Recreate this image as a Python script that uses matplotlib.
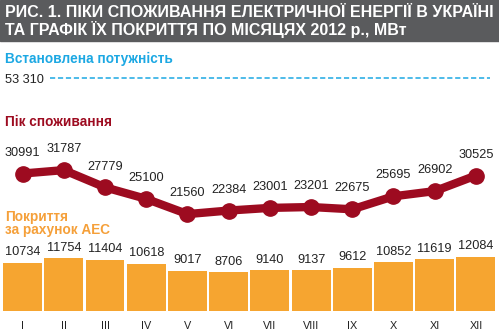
import matplotlib
matplotlib.use('Agg')
import matplotlib.pyplot as plt
from matplotlib import font_manager
from matplotlib.patches import Rectangle

# data
months = ['I', 'II', 'III', 'IV', 'V', 'VI', 'VII', 'VIII', 'IX', 'X', 'XI', 'XII']
peak = [30991, 31787, 27779, 25100, 21560, 22384, 23001, 23201, 22675, 25695, 26902, 30525]
nuclear = [10734, 11754, 11404, 10618, 9017, 8706, 9140, 9137, 9612, 10852, 11619, 12084]
capacity = 53310

title_lines = ['РИС. 1. ПІКИ СПОЖИВАННЯ ЕЛЕКТРИЧНОЇ ЕНЕРГІЇ В УКРАЇНІ',
               'ТА ГРАФІК ЇХ ПОКРИТТЯ ПО МІСЯЦЯХ 2012 р., МВт']

names = {f.name for f in font_manager.fontManager.ttflist}
narrow = 'Liberation Sans Narrow' if 'Liberation Sans Narrow' in names else 'Liberation Sans'
plt.rcParams['font.family'] = ['Liberation Sans', 'DejaVu Sans']

BAND = '#5a5b5d'
CYAN = '#1ca8e3'
RED = '#9d0b20'
ORANGE = '#f6a530'
ORANGE_TXT = '#f5a03a'

W, H = 499, 336
fig = plt.figure(figsize=(W / 100, H / 100), dpi=100)


def fx(x):
    return x / W


def fy(y):
    return 1 - y / H


# title band
fig.patches.append(Rectangle((0, fy(41)), 1, 41 / H, transform=fig.transFigure,
                             color=BAND, zorder=0))
fig.text(fx(5), fy(16.7), title_lines[0], color='white', fontsize=11.5,
         fontweight='bold', family=[narrow, 'DejaVu Sans'], va='baseline')
fig.text(fx(5), fy(35), title_lines[1], color='white', fontsize=11.5,
         fontweight='bold', family=[narrow, 'DejaVu Sans'], va='baseline')

# section labels
fig.text(fx(5), fy(63.3), 'Встановлена потужність', color=CYAN, fontsize=9.8,
         fontweight='bold', va='baseline')
fig.text(fx(5), fy(83), '53 310', color='#222222', fontsize=9.2, va='baseline')
fig.text(fx(5), fy(126), 'Пік споживання', color=RED, fontsize=9.8,
         fontweight='bold', va='baseline')
fig.text(fx(5), fy(220.7), 'Покриття', color=ORANGE_TXT, fontsize=9.8,
         fontweight='bold', va='baseline')
fig.text(fx(5), fy(234.3), 'за рахунок АЕС', color=ORANGE_TXT, fontsize=9.8,
         fontweight='bold', va='baseline')

x = list(range(len(months)))
ax_rect = [fx(2), 0, 494.5 / W, 1]

# bars: base at 311 px, 0.00447 px per MW
ax_bar = fig.add_axes(ax_rect)
ax_bar.bar(x, nuclear, width=0.945, color=ORANGE, zorder=2)
ax_bar.set_xlim(-0.5, 11.5)
ax_bar.set_ylim(-25 / 0.00447, (H - 25) / 0.00447)
for i, v in enumerate(nuclear):
    ax_bar.annotate(str(v), (i, v), xytext=(0, 7.6), textcoords='offset points',
                    ha='center', va='center', fontsize=9.2, color='#222222')
    ax_bar.annotate(months[i], (i, 0), xytext=(0, -10.5), textcoords='offset points',
                    ha='center', va='center', fontsize=7.8, color='#222222',
                    family=[narrow, 'DejaVu Sans'])
ax_bar.axis('off')

# peak line: 0.0043 px per MW
ax_line = fig.add_axes(ax_rect, sharex=ax_bar)
ax_line.patch.set_alpha(0)
ax_line.set_ylim(26000 - 141 / 0.0043, 26000 + 195 / 0.0043)
ax_line.plot(x, peak, color=RED, lw=6, marker='o', ms=11,
             solid_capstyle='round', solid_joinstyle='round', zorder=3)
for i, v in enumerate(peak):
    ax_line.annotate(str(v), (i, v), xytext=(0, 15), textcoords='offset points',
                     ha='center', va='center', fontsize=9.2, color='#222222')
ax_line.hlines(capacity, 0.66, 11.35, color=CYAN, lw=1.1,
               linestyles=(0, (3.4, 1.8)))
ax_line.axis('off')

fig.savefig('out.png', dpi=100)
